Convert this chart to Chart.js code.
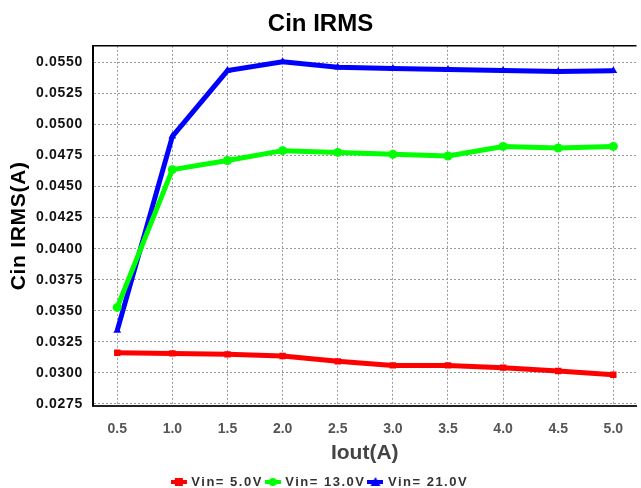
<!DOCTYPE html>
<html>
<head>
<meta charset="utf-8">
<script src="https://cdn.jsdelivr.net/npm/chart.js@4.4.1/dist/chart.umd.min.js"></script>
<style>
html,body{margin:0;padding:0;background:#fff;}
#wrap{width:641px;height:488px;}
</style>
</head>
<body>
<div id="wrap"><canvas id="c" width="641" height="488"></canvas></div>
<script>
const iout = [0.5, 1.0, 1.5, 2.0, 2.5, 3.0, 3.5, 4.0, 4.5, 5.0];
const vin5 = [0.03162, 0.03157, 0.03149, 0.03136, 0.03093, 0.03060, 0.03060, 0.03042, 0.03015, 0.02985];
const vin13 = [0.03527, 0.04636, 0.04710, 0.04789, 0.04775, 0.04759, 0.04746, 0.04823, 0.04810, 0.04823];
const vin21 = [0.03342, 0.04904, 0.05434, 0.05504, 0.05461, 0.05450, 0.05442, 0.05434, 0.05426, 0.05432];
const xTicks = [0.5, 1.0, 1.5, 2.0, 2.5, 3.0, 3.5, 4.0, 4.5, 5.0];
const yTicks = [0.0275, 0.0300, 0.0325, 0.0350, 0.0375, 0.0400, 0.0425, 0.0450, 0.0475, 0.0500, 0.0525, 0.0550];
const seriesNames = ['Vin= 5.0V', 'Vin= 13.0V', 'Vin= 21.0V'];
const seriesColors = ['#ff0000', '#00ff00', '#0000ff'];
const seriesMarkers = ['rect', 'circle', 'triangle'];

function swatch(color, marker) {
  const cv = document.createElement('canvas');
  cv.width = 16; cv.height = 10;
  const g = cv.getContext('2d');
  g.strokeStyle = color; g.lineWidth = 4;
  g.beginPath(); g.moveTo(0, 5); g.lineTo(16, 5); g.stroke();
  g.fillStyle = color;
  if (marker === 'rect') g.fillRect(4, 1, 8, 8);
  else if (marker === 'circle') { g.beginPath(); g.arc(8, 5, 4, 0, Math.PI * 2); g.fill(); }
  else { g.beginPath(); g.moveTo(8, 0); g.lineTo(13, 9); g.lineTo(3, 9); g.closePath(); g.fill(); }
  return cv;
}

const dataSets = [vin5, vin13, vin21].map((arr, i) => ({
  label: seriesNames[i],
  data: iout.map((x, j) => ({x: x, y: arr[j]})),
  borderColor: seriesColors[i],
  backgroundColor: seriesColors[i],
  borderWidth: 5,
  pointStyle: seriesMarkers[i],
  pointRadius: 4.5,
  pointBorderWidth: 0,
  tension: 0,
  legendSwatch: swatch(seriesColors[i], seriesMarkers[i])
}));

const topBorder = {
  id: 'topBorder',
  afterDraw(chart) {
    const {ctx, chartArea} = chart;
    ctx.save();
    ctx.strokeStyle = '#000';
    ctx.lineWidth = 1.5;
    ctx.beginPath();
    ctx.moveTo(chartArea.left, chartArea.top);
    ctx.lineTo(chartArea.right, chartArea.top);
    ctx.stroke();
    ctx.restore();
  }
};

const chart = new Chart(document.getElementById('c'), {
  type: 'line',
  data: {datasets: dataSets},
  plugins: [topBorder],
  options: {
    responsive: false,
    animation: false,
    devicePixelRatio: 1,
    layout: {padding: {left: 0, right: 0, top: 0, bottom: 0}},
    plugins: {
      title: {
        display: true,
        text: 'Cin IRMS',
        color: '#000',
        font: {family: 'Liberation Sans', size: 24, weight: 'bold'},
        padding: {top: 10, bottom: 7}
      },
      legend: {
        position: 'bottom',
        labels: {
          usePointStyle: true,
          pointStyleWidth: 12,
          padding: 4,
          color: '#333',
          font: {family: 'Liberation Sans', size: 13, weight: 'bold'},
          generateLabels(chart) {
            return chart.data.datasets.map((ds, i) => ({
              text: ds.label,
              pointStyle: ds.legendSwatch,
              fillStyle: ds.borderColor,
              strokeStyle: ds.borderColor,
              lineWidth: 0,
              fontColor: '#333',
              hidden: false,
              datasetIndex: i
            }));
          }
        }
      },
      tooltip: {enabled: false}
    },
    scales: {
      x: {
        type: 'linear',
        min: 0.28,
        max: 5.21,
        afterBuildTicks(scale) { scale.ticks = xTicks.map(v => ({value: v})); },
        afterFit(scale) { scale.height = 65.7; },
        ticks: {
          color: '#555',
          font: {family: 'Liberation Sans', size: 14, weight: 'bold'},
          padding: 15,
          maxRotation: 0,
          callback: v => Number(v).toFixed(1)
        },
        grid: {color: '#999', lineWidth: 1, drawTicks: false},
        border: {display: true, color: '#222', width: 2, dash: [2, 2]},
        title: {
          display: true,
          text: 'Iout(A)',
          color: '#444',
          font: {family: 'Liberation Sans', size: 21, weight: 'bold'},
          padding: {top: 2, bottom: 6}
        }
      },
      y: {
        type: 'linear',
        min: 0.02735,
        max: 0.05633,
        afterBuildTicks(scale) { scale.ticks = yTicks.map(v => ({value: v})); },
        afterFit(scale) { scale.width = 93; },
        ticks: {
          color: '#111',
          font: {family: 'Liberation Sans', size: 14, weight: 'bold'},
          padding: 10,
          callback: v => Number(v).toFixed(4)
        },
        grid: {color: '#999', lineWidth: 1, drawTicks: false},
        border: {display: true, color: '#000', width: 2, dash: [2, 2]},
        title: {
          display: true,
          text: 'Cin IRMS(A)',
          color: '#000',
          font: {family: 'Liberation Sans', size: 21, weight: 'bold'},
          padding: {top: 7, bottom: 4}
        }
      }
    }
  }
});

// letter spacing for legend and y axis text, to match the reference's tracking
(function () {
  const ctx = chart.ctx;
  const lg = chart.legend;
  const lgFit = lg.fit.bind(lg), lgDraw = lg.draw.bind(lg);
  lg.fit = function () {
    ctx.letterSpacing = '1.5px'; lgFit(); ctx.letterSpacing = '0px';
    this.height = 16.5;
  };
  lg.draw = function (a) { ctx.letterSpacing = '1.5px'; lgDraw(a); ctx.letterSpacing = '0px'; };
  const ys = chart.scales.y;
  const yDraw = ys.draw.bind(ys);
  ys.draw = function (a) { ctx.letterSpacing = '0.7px'; yDraw(a); ctx.letterSpacing = '0px'; };
  chart.update();
})();
</script>
</body>
</html>
